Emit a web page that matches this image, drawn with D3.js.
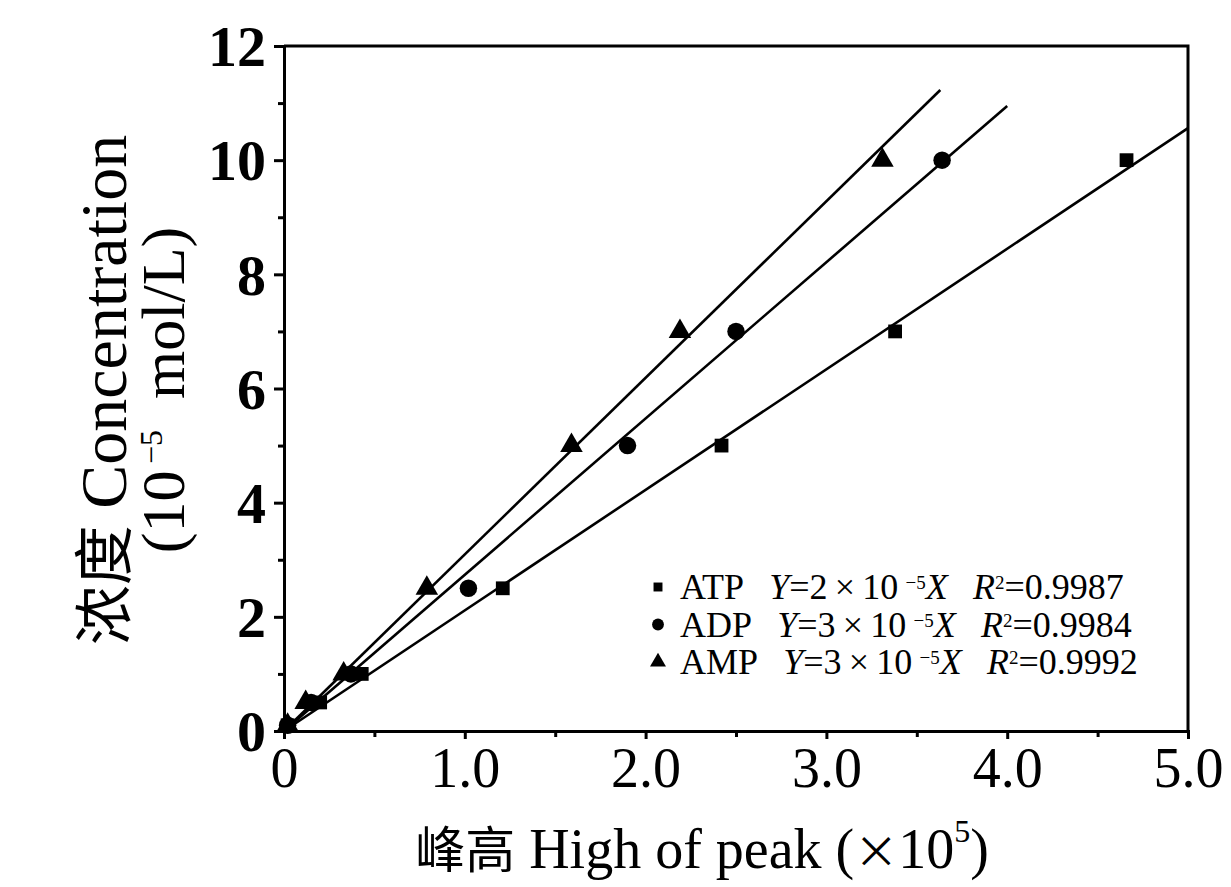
<!DOCTYPE html>
<html>
<head>
<meta charset="utf-8">
<script src="https://cdn.jsdelivr.net/npm/d3@7"></script>
<style>
  body { margin: 0; background: #fff; }
  svg { display: block; }
  .axis path, .axis line { stroke: #000; }
  .axis text { fill: #000; font-family: 'Liberation Serif', serif; }
</style>
</head>
<body>
<svg id="chart" width="1231" height="887"></svg>
<script>
// series (x in 10^5 peak units, y in 10^-5 mol/L)
const atpX = [0.02, 0.2, 0.43, 1.21, 2.42, 3.38, 4.66]
const atpY = [0.1, 0.5, 1.0, 2.5, 5.0, 7.0, 10.0]
const adpX = [0.02, 0.15, 0.37, 1.02, 1.9, 2.5, 3.64]
const adpY = [0.1, 0.5, 1.0, 2.5, 5.0, 7.0, 10.0]
const ampX = [0.02, 0.12, 0.33, 0.79, 1.59, 2.19, 3.31]
const ampY = [0.1, 0.5, 1.0, 2.5, 5.0, 7.0, 10.0]

// fitted lines: [x0, y0, x1, y1]
const atpFit = [0, 0, 5.0, 10.56]
const adpFit = [0, 0, 4.0, 10.95]
const ampFit = [0, 0, 3.63, 11.23]

const seriesNames = ['ATP', 'ADP', 'AMP']
const slopeText = ['2', '3', '3']
const r2Text = ['0.9987', '0.9984', '0.9992']

const xTicks = [0, 1, 2, 3, 4, 5]
const xTickLabels = ['0', '1.0', '2.0', '3.0', '4.0', '5.0']
const xMinor = [0.5, 1.5, 2.5, 3.5, 4.5]
const yTicks = [0, 2, 4, 6, 8, 10, 12]
const yMinor = [1, 3, 5, 7, 9, 11]

const svg = d3.select('#chart')

const x = d3.scaleLinear().domain([0, 5]).range([284, 1188])
const y = d3.scaleLinear().domain([0, 12]).range([731, 46])

const serif = "'Liberation Serif', serif"
const cjk = "'Noto Sans CJK SC', sans-serif"

// frame top and right
svg.append('path')
  .attr('d', `M${x(0)},${y(12)}H${x(5)}V${y(0)}`)
  .attr('fill', 'none')
  .attr('stroke', '#000')
  .attr('stroke-width', 3)

// x axis
const gx = svg.append('g')
  .attr('class', 'axis')
  .attr('transform', `translate(0,${y(0)})`)
  .call(d3.axisBottom(x).tickValues(xTicks).tickSize(8).tickPadding(8)
    .tickFormat((d, i) => xTickLabels[i]))
gx.select('.domain').attr('stroke-width', 3)
gx.selectAll('.tick line').attr('stroke-width', 3)
gx.selectAll('.tick text').attr('font-size', 56).attr('dy', '0.72em')

svg.append('g')
  .attr('class', 'axis')
  .attr('transform', `translate(0,${y(0)})`)
  .call(d3.axisBottom(x).tickValues(xMinor).tickSize(6).tickFormat(''))
  .call(g => g.select('.domain').remove())
  .selectAll('.tick line').attr('stroke-width', 3)

// y axis
const gy = svg.append('g')
  .attr('class', 'axis')
  .attr('transform', `translate(${x(0)},0)`)
  .call(d3.axisLeft(y).tickValues(yTicks).tickSize(10).tickPadding(8))
gy.select('.domain').attr('stroke-width', 3)
gy.selectAll('.tick line').attr('stroke-width', 3)
gy.selectAll('.tick text').attr('font-size', 58).attr('font-weight', 'bold').attr('dy', '0.34em')

svg.append('g')
  .attr('class', 'axis')
  .attr('transform', `translate(${x(0)},0)`)
  .call(d3.axisLeft(y).tickValues(yMinor).tickSize(6).tickFormat(''))
  .call(g => g.select('.domain').remove())
  .selectAll('.tick line').attr('stroke-width', 3)

// fitted lines
const fits = [atpFit, adpFit, ampFit]
svg.selectAll('.fit')
  .data(fits)
  .enter()
  .append('line')
  .attr('class', 'fit')
  .attr('x1', d => x(d[0]))
  .attr('y1', d => y(d[1]))
  .attr('x2', d => x(d[2]))
  .attr('y2', d => y(d[3]))
  .attr('stroke', '#000')
  .attr('stroke-width', 2.6)

// markers
const symbols = [d3.symbolSquare, d3.symbolCircle, d3.symbolTriangle]
const symSize = [190, 240, 220]
const pts = [[atpX, atpY], [adpX, adpY], [ampX, ampY]]

pts.forEach((p, k) => {
  const data = p[0].map((v, i) => ({ x: v, y: p[1][i] }))
  svg.append('g')
    .selectAll('path')
    .data(data)
    .enter()
    .append('path')
    .attr('d', d3.symbol().type(symbols[k]).size(symSize[k]))
    .attr('transform', d => `translate(${x(d.x)},${y(d.y)})`)
    .attr('fill', '#000')
})

// legend
const legend = svg.append('g').attr('transform', 'translate(658,587)')
seriesNames.forEach((name, i) => {
  const row = legend.append('g').attr('transform', `translate(0,${i * 37.5})`)
  row.append('path')
    .attr('d', d3.symbol().type(symbols[i]).size([80, 110, 110][i]))
    .attr('fill', '#000')
  const t = row.append('text')
    .attr('x', 22)
    .attr('y', 12)
    .attr('font-family', serif)
    .attr('font-size', 36)
    .attr('fill', '#000')
  t.append('tspan').text(name + '\u2002\u2009')
  t.append('tspan').attr('font-style', 'italic').text('Y')
  t.append('tspan').text('=' + slopeText[i] + '\u2009\u00d7\u200910\u2009')
  t.append('tspan').attr('font-size', 19).attr('dy', -10).text('\u22125')
  t.append('tspan').attr('font-style', 'italic').attr('dy', 10).text('X\u2002\u2009R')
  t.append('tspan').attr('font-size', 19).attr('dy', -10).text('2')
  t.append('tspan').attr('dy', 10).text('=' + r2Text[i])
})

// x axis title
const xt = svg.append('text')
  .attr('x', 702)
  .attr('y', 868)
  .attr('text-anchor', 'middle')
  .attr('font-family', serif)
  .attr('font-size', 56)
  .attr('fill', '#000')
xt.append('tspan').attr('font-family', cjk).attr('font-size', 50).text('峰高')
xt.append('tspan').text(' High of peak (')
xt.append('tspan').attr('font-family', cjk).attr('font-size', 44).text('\u00d7')
xt.append('tspan').text('10')
xt.append('tspan').attr('font-size', 32).attr('dy', -26).text('5')
xt.append('tspan').attr('dy', 26).text(')')

// y axis title, two lines
const yt = svg.append('g').attr('transform', 'translate(126,390) rotate(-90)')
const yt1 = yt.append('text')
  .attr('text-anchor', 'middle')
  .attr('font-family', serif)
  .attr('font-size', 66)
  .attr('fill', '#000')
yt1.append('tspan').attr('font-family', cjk).attr('font-size', 60).text('浓度')
yt1.append('tspan').text(' Concentration')
const yt2 = yt.append('text')
  .attr('y', 58)
  .attr('text-anchor', 'middle')
  .attr('font-family', serif)
  .attr('font-size', 62)
  .attr('fill', '#000')
yt2.append('tspan').text('(10')
yt2.append('tspan').attr('font-size', 32).attr('dy', -22).text('\u2009\u22125')
yt2.append('tspan').attr('dy', 22).text('\u2002mol/L)')
</script>
</body>
</html>
